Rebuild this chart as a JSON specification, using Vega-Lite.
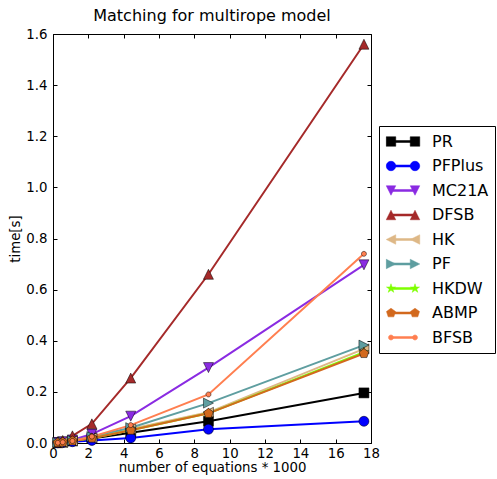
{
  "$schema": "https://vega.github.io/schema/vega-lite/v6.json",
  "title": {
    "text": "Matching for multirope model",
    "fontSize": 16,
    "font": "DejaVu Sans",
    "fontWeight": "normal",
    "color": "black",
    "anchor": "middle",
    "frame": "group",
    "baseline": "alphabetic",
    "offset": 12,
    "dy": 21.5
  },
  "width": 318,
  "height": 409,
  "autosize": {"type": "none"},
  "padding": {"left": 53, "top": 34, "right": 126, "bottom": 36},
  "background": "white",
  "data": {
    "values": [
      {"n": 0.275, "method": "PR", "time": 0.001},
      {"n": 0.55, "method": "PR", "time": 0.003},
      {"n": 1.1, "method": "PR", "time": 0.008},
      {"n": 2.2, "method": "PR", "time": 0.018},
      {"n": 4.4, "method": "PR", "time": 0.04},
      {"n": 8.8, "method": "PR", "time": 0.085},
      {"n": 17.6, "method": "PR", "time": 0.196},
      {"n": 0.275, "method": "PFPlus", "time": 0.001},
      {"n": 0.55, "method": "PFPlus", "time": 0.002},
      {"n": 1.1, "method": "PFPlus", "time": 0.005},
      {"n": 2.2, "method": "PFPlus", "time": 0.01},
      {"n": 4.4, "method": "PFPlus", "time": 0.02},
      {"n": 8.8, "method": "PFPlus", "time": 0.054},
      {"n": 17.6, "method": "PFPlus", "time": 0.085},
      {"n": 0.275, "method": "MC21A", "time": 0.002},
      {"n": 0.55, "method": "MC21A", "time": 0.005},
      {"n": 1.1, "method": "MC21A", "time": 0.012},
      {"n": 2.2, "method": "MC21A", "time": 0.035},
      {"n": 4.4, "method": "MC21A", "time": 0.105},
      {"n": 8.8, "method": "MC21A", "time": 0.295},
      {"n": 17.6, "method": "MC21A", "time": 0.697},
      {"n": 0.275, "method": "DFSB", "time": 0.003},
      {"n": 0.55, "method": "DFSB", "time": 0.01},
      {"n": 1.1, "method": "DFSB", "time": 0.028},
      {"n": 2.2, "method": "DFSB", "time": 0.075},
      {"n": 4.4, "method": "DFSB", "time": 0.254},
      {"n": 8.8, "method": "DFSB", "time": 0.66},
      {"n": 17.6, "method": "DFSB", "time": 1.56},
      {"n": 0.275, "method": "HK", "time": 0.001},
      {"n": 0.55, "method": "HK", "time": 0.003},
      {"n": 1.1, "method": "HK", "time": 0.008},
      {"n": 2.2, "method": "HK", "time": 0.02},
      {"n": 4.4, "method": "HK", "time": 0.055},
      {"n": 8.8, "method": "HK", "time": 0.12},
      {"n": 17.6, "method": "HK", "time": 0.368},
      {"n": 0.275, "method": "PF", "time": 0.002},
      {"n": 0.55, "method": "PF", "time": 0.004},
      {"n": 1.1, "method": "PF", "time": 0.01},
      {"n": 2.2, "method": "PF", "time": 0.025},
      {"n": 4.4, "method": "PF", "time": 0.06},
      {"n": 8.8, "method": "PF", "time": 0.156},
      {"n": 17.6, "method": "PF", "time": 0.383},
      {"n": 0.275, "method": "HKDW", "time": 0.001},
      {"n": 0.55, "method": "HKDW", "time": 0.003},
      {"n": 1.1, "method": "HKDW", "time": 0.008},
      {"n": 2.2, "method": "HKDW", "time": 0.019},
      {"n": 4.4, "method": "HKDW", "time": 0.05},
      {"n": 8.8, "method": "HKDW", "time": 0.116},
      {"n": 17.6, "method": "HKDW", "time": 0.355},
      {"n": 0.275, "method": "ABMP", "time": 0.001},
      {"n": 0.55, "method": "ABMP", "time": 0.003},
      {"n": 1.1, "method": "ABMP", "time": 0.008},
      {"n": 2.2, "method": "ABMP", "time": 0.019},
      {"n": 4.4, "method": "ABMP", "time": 0.05},
      {"n": 8.8, "method": "ABMP", "time": 0.116},
      {"n": 17.6, "method": "ABMP", "time": 0.35},
      {"n": 0.275, "method": "BFSB", "time": 0.001},
      {"n": 0.55, "method": "BFSB", "time": 0.003},
      {"n": 1.1, "method": "BFSB", "time": 0.008},
      {"n": 2.2, "method": "BFSB", "time": 0.025},
      {"n": 4.4, "method": "BFSB", "time": 0.07},
      {"n": 8.8, "method": "BFSB", "time": 0.19},
      {"n": 17.6, "method": "BFSB", "time": 0.74}
    ]
  },
  "layer": [
    {
      "mark": {"type": "line", "strokeWidth": 2},
      "encoding": {
        "x": {
          "field": "n",
          "type": "quantitative",
          "scale": {"domain": [0, 18], "nice": false, "zero": false},
          "axis": {
            "title": "number of equations * 1000",
            "values": [0, 2, 4, 6, 8, 10, 12, 14, 16, 18],
            "format": "d",
            "labelPadding": 7,
            "titlePadding": 1
          }
        },
        "y": {
          "field": "time",
          "type": "quantitative",
          "scale": {"domain": [0, 1.6], "nice": false},
          "axis": {
            "title": "time[s]",
            "values": [0, 0.2, 0.4, 0.6, 0.8, 1.0, 1.2, 1.4, 1.6],
            "format": ".1f",
            "labelPadding": 10,
            "titlePadding": 3
          }
        },
        "color": {
          "field": "method",
          "type": "nominal",
          "scale": {
            "domain": ["PR", "PFPlus", "MC21A", "DFSB", "HK", "PF", "HKDW", "ABMP", "BFSB"],
            "range": ["#000000", "#0000ff", "#8a2be2", "#a52a2a", "#deb887", "#5f9ea0", "#7fff00", "#d2691e", "#ff7f50"]
          },
          "legend": {
            "title": null,
            "orient": "none",
            "legendX": 326,
            "legendY": 92,
            "padding": 6.5,
            "strokeColor": "black",
            "fillColor": "white",
            "cornerRadius": 0,
            "symbolSize": 1156,
            "clipHeight": 18,
            "rowPadding": 6.5,
            "labelOffset": 11.5,
            "labelFont": "DejaVu Sans",
            "labelFontSize": 16,
            "labelColor": "black",
            "encode": {
              "symbols": {
                "update": {
                  "shape": {"signal": "datum.value === 'PR' ? 'M-0.706,-0.059H0.706V0.059H-0.706ZM-0.986,-0.28H-0.426V0.28H-0.986ZM0.426,-0.28H0.986V0.28H0.426Z' : datum.value === 'PFPlus' ? 'M-0.706,-0.059H0.706V0.059H-0.706ZM-0.426,0A0.28,0.28,0,1,1,-0.986,0A0.28,0.28,0,1,1,-0.426,0ZM0.986,0A0.28,0.28,0,1,1,0.426,0A0.28,0.28,0,1,1,0.986,0Z' : datum.value === 'MC21A' ? 'M-0.706,-0.059H0.706V0.059H-0.706ZM-0.986,-0.28L-0.426,-0.28L-0.706,0.28ZM0.426,-0.28L0.986,-0.28L0.706,0.28Z' : datum.value === 'DFSB' ? 'M-0.706,-0.059H0.706V0.059H-0.706ZM-0.706,-0.28L-0.426,0.28L-0.986,0.28ZM0.706,-0.28L0.986,0.28L0.426,0.28Z' : datum.value === 'HK' ? 'M-0.706,-0.059H0.706V0.059H-0.706ZM-0.986,0L-0.426,-0.28L-0.426,0.28ZM0.426,0L0.986,-0.28L0.986,0.28Z' : datum.value === 'PF' ? 'M-0.706,-0.059H0.706V0.059H-0.706ZM-0.426,0L-0.986,0.28L-0.986,-0.28ZM0.986,0L0.426,0.28L0.426,-0.28Z' : datum.value === 'HKDW' ? 'M-0.706,-0.059H0.706V0.059H-0.706ZM-0.706,-0.28L-0.643,-0.087L-0.44,-0.087L-0.604,0.033L-0.541,0.227L-0.706,0.107L-0.871,0.227L-0.808,0.033L-0.972,-0.087L-0.769,-0.087ZM0.706,-0.28L0.769,-0.087L0.972,-0.087L0.808,0.033L0.871,0.227L0.706,0.107L0.541,0.227L0.604,0.033L0.44,-0.087L0.643,-0.087Z' : datum.value === 'ABMP' ? 'M-0.706,-0.059H0.706V0.059H-0.706ZM-0.706,-0.28L-0.44,-0.087L-0.541,0.227L-0.871,0.227L-0.972,-0.087ZM0.706,-0.28L0.972,-0.087L0.871,0.227L0.541,0.227L0.44,-0.087Z' : 'M-0.706,-0.059H0.706V0.059H-0.706ZM-0.556,0A0.15,0.15,0,1,1,-0.856,0A0.15,0.15,0,1,1,-0.556,0ZM0.856,0A0.15,0.15,0,1,1,0.556,0A0.15,0.15,0,1,1,0.856,0Z'"},
                  "fill": {"scale": "color", "field": "value"},
                  "stroke": {"scale": "color", "field": "value"},
                  "strokeWidth": {"value": 0.5},
                  "opacity": {"value": 1},
                  "size": {"value": 1156}
                }
              }
            }
          }
        }
      }
    },
    {
      "mark": {"type": "point", "filled": true, "opacity": 1, "size": 100, "stroke": "black", "strokeWidth": 0.5},
      "encoding": {
        "x": {"field": "n", "type": "quantitative", "axis": null},
        "y": {"field": "time", "type": "quantitative", "axis": null},
        "color": {"field": "method", "type": "nominal"},
        "shape": {
          "field": "method",
          "type": "nominal",
          "scale": {
            "domain": ["ABMP", "BFSB", "DFSB", "HK", "HKDW", "MC21A", "PF", "PFPlus", "PR"],
            "range": [
              "M0,-1L0.951,-0.309L0.588,0.809L-0.588,0.809L-0.951,-0.309Z",
              "M0.5,0A0.5,0.5,0,1,1,-0.5,0A0.5,0.5,0,1,1,0.5,0Z",
              "M0,-1L1,1L-1,1Z",
              "M-1,0L1,-1L1,1Z",
              "M0,-1L0.225,-0.309L0.951,-0.309L0.363,0.118L0.588,0.809L0,0.382L-0.588,0.809L-0.363,0.118L-0.951,-0.309L-0.225,-0.309Z",
              "M-1,-1L1,-1L0,1Z",
              "M1,0L-1,1L-1,-1Z",
              "M1,0A1,1,0,1,1,-1,0A1,1,0,1,1,1,0Z",
              "M-1,-1H1V1H-1Z"
            ]
          },
          "legend": null
        }
      }
    },
    {
      "mark": {"type": "point", "opacity": 0},
      "encoding": {
        "x": {
          "field": "n",
          "type": "quantitative",
          "axis": {"orient": "top", "title": null, "labels": false, "domain": false, "values": [0, 2, 4, 6, 8, 10, 12, 14, 16, 18]}
        },
        "y": {
          "field": "time",
          "type": "quantitative",
          "axis": {"orient": "right", "title": null, "labels": false, "domain": false, "values": [0, 0.2, 0.4, 0.6, 0.8, 1.0, 1.2, 1.4, 1.6]}
        }
      }
    }
  ],
  "resolve": {"axis": {"x": "independent", "y": "independent"}},
  "config": {
    "font": "DejaVu Sans",
    "axis": {
      "labelFont": "DejaVu Sans",
      "labelFontSize": 13.3,
      "labelColor": "black",
      "labelFlush": false,
      "titleFont": "DejaVu Sans",
      "titleFontSize": 13.3,
      "titleFontWeight": "normal",
      "titleColor": "black",
      "tickColor": "black",
      "domainColor": "black",
      "grid": false,
      "tickSize": -4
    },
    "view": {"stroke": "black", "strokeWidth": 1}
  }
}
